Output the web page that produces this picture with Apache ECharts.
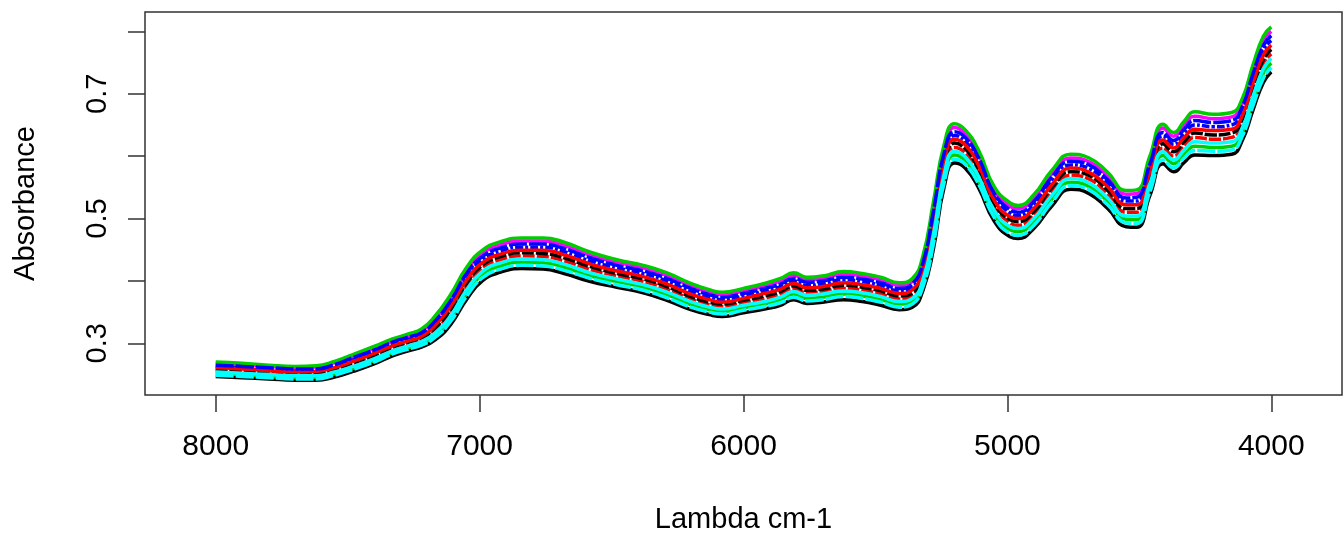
<!DOCTYPE html>
<html>
<head>
<meta charset="utf-8">
<script src="https://cdn.jsdelivr.net/npm/echarts@6/dist/echarts.min.js"></script>
<style>
  html, body { margin: 0; padding: 0; background: #fff; }
  #chart { width: 1344px; height: 540px; }
</style>
</head>
<body>
<div id="chart"></div>
<script>
// Wavenumbers (cm-1)
const wavenumbers = [8000,7900,7800,7700,7620,7550,7480,7400,7330,7270,7220,7170,7110,7050,6990,6920,6840,6760,6680,6580,6480,6380,6290,6200,6130,6080,6000,5920,5860,5810,5760,5700,5620,5550,5480,5410,5360,5320,5280,5240,5200,5160,5110,5050,4990,4960,4900,4830,4760,4690,4620,4550,4510,4460,4410,4370,4330,4290,4220,4150,4110,4070,4030,4000];

// Absorbance spectra
const spectrum01 = [.247,.245,.243,.241,.241,.246,.255,.267,.280,.288,.294,.305,.330,.370,.400,.414,.420,.419,.412,.399,.390,.381,.369,.354,.346,.343,.349,.355,.361,.370,.364,.366,.370,.367,.361,.354,.358,.385,.452,.550,.589,.581,.550,.496,.471,.468,.484,.521,.547,.540,.516,.487,.486,.537,.588,.575,.590,.602,.601,.603,.625,.673,.718,.735];
const spectrum02 = [.256,.254,.252,.250,.250,.256,.266,.278,.291,.299,.306,.320,.349,.390,.420,.434,.440,.439,.432,.418,.408,.399,.387,.371,.362,.359,.365,.371,.378,.387,.381,.383,.388,.385,.379,.371,.376,.407,.482,.577,.614,.605,.574,.518,.493,.489,.506,.544,.569,.563,.539,.510,.510,.562,.613,.600,.616,.630,.627,.630,.652,.702,.748,.764];
const spectrum03 = [.252,.250,.247,.245,.246,.251,.260,.273,.285,.293,.300,.313,.340,.380,.410,.424,.430,.429,.422,.408,.399,.390,.378,.362,.354,.351,.357,.363,.370,.379,.372,.374,.379,.376,.370,.363,.367,.396,.467,.564,.602,.593,.562,.507,.482,.479,.495,.532,.558,.551,.528,.499,.498,.550,.601,.588,.603,.616,.614,.616,.638,.687,.733,.749];
const spectrum04 = [.263,.261,.258,.256,.257,.264,.274,.287,.299,.307,.314,.332,.364,.406,.434,.448,.454,.454,.447,.432,.421,.412,.400,.383,.374,.370,.376,.384,.391,.400,.393,.395,.402,.399,.393,.384,.390,.424,.505,.598,.633,.624,.592,.535,.509,.505,.522,.561,.586,.580,.557,.528,.528,.581,.632,.619,.636,.650,.647,.650,.672,.723,.770,.785];
const spectrum05 = [.249,.247,.245,.243,.243,.249,.258,.270,.283,.291,.297,.309,.335,.375,.405,.419,.425,.424,.417,.404,.394,.385,.373,.358,.350,.347,.353,.359,.365,.374,.368,.370,.375,.372,.366,.358,.363,.391,.460,.557,.595,.587,.556,.502,.476,.473,.489,.527,.553,.546,.522,.493,.492,.543,.594,.581,.597,.609,.608,.610,.632,.680,.725,.742];
const spectrum06 = [.268,.266,.263,.261,.262,.269,.279,.292,.304,.312,.320,.339,.373,.416,.444,.458,.464,.464,.457,.441,.430,.421,.409,.392,.382,.378,.384,.392,.400,.409,.402,.404,.411,.408,.402,.393,.399,.435,.520,.611,.646,.636,.604,.546,.520,.516,.533,.572,.597,.591,.568,.539,.540,.594,.645,.632,.649,.664,.660,.663,.685,.738,.785,.800];
const spectrum07 = [.259,.257,.254,.252,.253,.259,.269,.281,.294,.302,.309,.324,.354,.396,.425,.439,.445,.444,.437,.423,.412,.403,.391,.375,.366,.363,.369,.376,.383,.392,.385,.387,.393,.390,.384,.376,.381,.413,.490,.584,.621,.612,.580,.524,.498,.495,.511,.550,.575,.569,.545,.516,.516,.569,.620,.607,.623,.637,.634,.637,.659,.709,.755,.771];
const spectrum08 = [.261,.259,.256,.254,.255,.261,.271,.284,.296,.304,.311,.328,.359,.401,.429,.443,.449,.449,.442,.427,.416,.407,.395,.379,.370,.366,.372,.380,.387,.396,.389,.391,.397,.394,.388,.380,.386,.418,.497,.591,.627,.618,.586,.529,.503,.500,.516,.555,.581,.574,.551,.522,.522,.575,.626,.613,.630,.643,.641,.643,.665,.716,.762,.778];
const spectrum09 = [.270,.268,.265,.263,.264,.271,.282,.295,.307,.315,.323,.343,.378,.421,.449,.463,.469,.469,.462,.446,.434,.425,.413,.396,.386,.382,.388,.396,.404,.413,.406,.408,.415,.412,.406,.397,.404,.440,.527,.618,.652,.642,.610,.551,.525,.521,.538,.578,.603,.597,.574,.545,.546,.600,.651,.638,.656,.671,.667,.670,.692,.745,.792,.807];
const spectrum10 = [.265,.263,.261,.259,.259,.266,.277,.289,.302,.310,.317,.335,.368,.411,.439,.453,.459,.459,.452,.437,.425,.416,.404,.388,.378,.374,.380,.388,.395,.404,.398,.400,.406,.403,.397,.388,.395,.429,.512,.604,.639,.630,.598,.540,.514,.510,.527,.567,.592,.586,.562,.533,.534,.587,.638,.625,.643,.657,.654,.657,.679,.731,.777,.793];
const spectrum11 = [.254,.252,.250,.248,.248,.254,.263,.275,.288,.296,.303,.316,.344,.385,.415,.429,.435,.434,.427,.413,.403,.394,.382,.367,.358,.355,.361,.367,.374,.383,.377,.379,.384,.381,.375,.367,.372,.402,.475,.570,.608,.599,.568,.513,.487,.484,.500,.538,.564,.557,.533,.504,.504,.556,.607,.594,.610,.623,.621,.623,.645,.695,.740,.757];

const spectra = [spectrum01, spectrum02, spectrum03, spectrum04, spectrum05, spectrum06,
                 spectrum07, spectrum08, spectrum09, spectrum10, spectrum11];

// Tick values / labels
const xTickValues = [8000, 7000, 6000, 5000, 4000];
const yTickValues = [0.3, 0.4, 0.5, 0.6, 0.7, 0.8];
const yLabelValues = [0.3, 0.5, 0.7];

const lineColors = ['#000000', '#FF0000', '#00CD00', '#0000FF', '#00FFFF', '#FF00FF'];
const lineDashes = ['solid', [12, 2], 'solid', [8, 2, 3, 2], [18, 2]];

const FONT = '"Liberation Sans", Arial, sans-serif';
const chart = echarts.init(document.getElementById('chart'), null, { renderer: 'canvas' });

const series = spectra.map((s, i) => ({
  type: 'line',
  name: 'S' + (i + 1),
  data: wavenumbers.map((w, j) => [w, s[j]]),
  showSymbol: false,
  smooth: 0.5,
  silent: true,
  lineStyle: {
    color: lineColors[i % lineColors.length],
    width: 3.5,
    type: (i === 0 || i === 8) ? 'solid' : lineDashes[i % lineDashes.length]
  },
  z: 2 + i
}));

chart.setOption({
  animation: false,
  backgroundColor: '#ffffff',
  grid: {
    left: 145, top: 12, right: 2, bottom: 145,
    show: true, borderColor: '#333', borderWidth: 1.5, backgroundColor: 'transparent'
  },
  xAxis: {
    type: 'value',
    min: 3732, max: 8268,
    inverse: true,
    name: 'Lambda cm-1',
    nameLocation: 'middle',
    nameGap: 110,
    nameTextStyle: { fontFamily: FONT, fontSize: 29, color: '#000' },
    axisLine: { show: false },
    splitLine: { show: false },
    axisTick: { show: true, length: 17, customValues: xTickValues, lineStyle: { color: '#333', width: 1.5 } },
    axisLabel: { customValues: xTickValues, fontFamily: FONT, fontSize: 30, color: '#000', margin: 37,
      formatter: v => String(v) }
  },
  yAxis: {
    type: 'value',
    min: 0.2172, max: 0.831,
    name: 'Absorbance',
    nameLocation: 'middle',
    nameRotate: 90,
    nameGap: 105,
    nameTextStyle: { fontFamily: FONT, fontSize: 29, color: '#000' },
    axisLine: { show: false },
    splitLine: { show: false },
    axisTick: { show: true, length: 17, customValues: yTickValues, lineStyle: { color: '#333', width: 1.5 } },
    axisLabel: {
      customValues: yLabelValues, rotate: 90, fontFamily: FONT, fontSize: 29, color: '#000', margin: 33,
      formatter: v => v.toFixed(1)
    }
  },
  series: series
});
</script>
</body>
</html>
